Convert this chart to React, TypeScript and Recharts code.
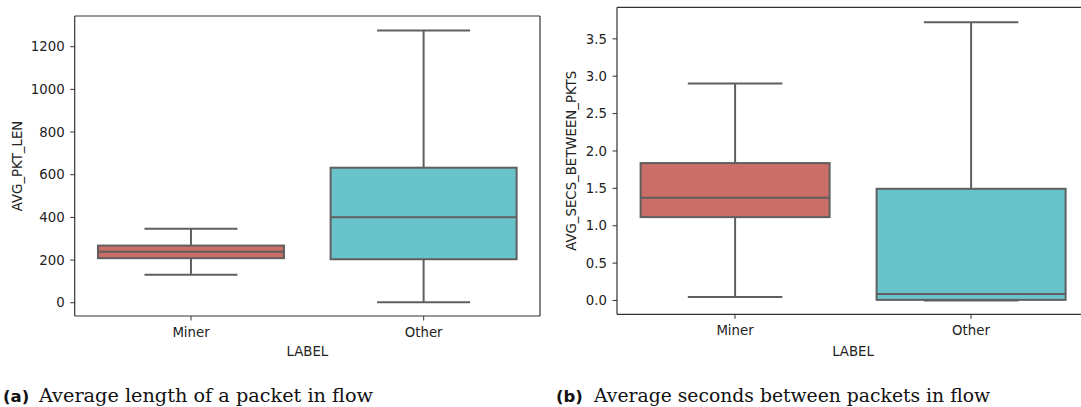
import React from 'react';
import { ComposedChart, Bar, XAxis, YAxis, Label } from 'recharts';

const categories = ['Miner', 'Other'];
const boxColors = ['#cb6e68', '#68c4ca'];

// (a) AVG_PKT_LEN
const pktLenMin = [131, 2];
const pktLenQ1 = [209, 204];
const pktLenMedian = [239, 401];
const pktLenQ3 = [268, 633];
const pktLenMax = [347, 1276];
const pktLenTicks = [0, 200, 400, 600, 800, 1000, 1200];

// (b) AVG_SECS_BETWEEN_PKTS
const secsWhiskerLow = [0.045, 0.0];
const secsQ1 = [1.115, 0.008];
const secsMedian = [1.374, 0.086];
const secsQ3 = [1.838, 1.494];
const secsMax = [2.902, 3.723];
const secsTicks = [0, 0.5, 1, 1.5, 2, 2.5, 3, 3.5];

const LINE = '#5f5f5f';
const SPINE = '#333';
const TEXT = '#222';
const FONT = 'DejaVu Sans, sans-serif';

const buildRows = (lo: number[], q1: number[], med: number[], q3: number[], hi: number[]) =>
  categories.map((label, i) => ({
    label,
    range: [lo[i], hi[i]],
    min: lo[i],
    q1: q1[i],
    median: med[i],
    q3: q3[i],
    max: hi[i],
    fill: boxColors[i],
  }));

const pktLenData = buildRows(pktLenMin, pktLenQ1, pktLenMedian, pktLenQ3, pktLenMax);
const secsData = buildRows(secsWhiskerLow, secsQ1, secsMedian, secsQ3, secsMax);

// bar spans whisker-to-whisker, so its pixel box gives the value->pixel mapping
const BoxShape = (props: any) => {
  const { x, y, width, height, payload } = props;
  const { min, q1, median, q3, max, fill } = payload;
  const top = Math.min(y, y + height);
  const h = Math.abs(height);
  const span = max - min || 1;
  const toY = (v: number) => top + ((max - v) / span) * h;
  const cx = x + width / 2;
  const cap = width / 4;
  return (
    <g>
      <line x1={cx} x2={cx} y1={toY(max)} y2={toY(q3)} stroke={LINE} strokeWidth={2} />
      <line x1={cx} x2={cx} y1={toY(q1)} y2={toY(min)} stroke={LINE} strokeWidth={2} />
      <line x1={cx - cap} x2={cx + cap} y1={toY(max)} y2={toY(max)} stroke={LINE} strokeWidth={2} />
      <line x1={cx - cap} x2={cx + cap} y1={toY(min)} y2={toY(min)} stroke={LINE} strokeWidth={2} />
      <rect x={x} y={toY(q3)} width={width} height={toY(q1) - toY(q3)} fill={fill} stroke={LINE} strokeWidth={2} />
      <line x1={x} x2={x + width} y1={toY(median)} y2={toY(median)} stroke={LINE} strokeWidth={2} />
    </g>
  );
};

const NoShape = () => null;

const tickStyle = { fontSize: 13.3, fill: TEXT, fontFamily: FONT };
const spineLine = { stroke: SPINE, strokeWidth: 1.2 };

interface PanelProps {
  data: any[];
  domain: [number, number];
  ticks: number[];
  yLabel: string;
  yAxisWidth: number;
  top: number;
  plotBottom: number;
  width: number;
  labelDx: number;
  fmt: (v: number) => string;
}

const Panel: React.FC<PanelProps> = ({ data, domain, ticks, yLabel, yAxisWidth, top, plotBottom, width, labelDx, fmt }) => {
  const height = 370;
  return (
    <ComposedChart
      width={width}
      height={height}
      data={data}
      margin={{ top: top - 1, right: 19, bottom: 0, left: 0 }}
      barCategoryGap="10%"
    >
      <XAxis
        xAxisId="top"
        orientation="top"
        dataKey="label"
        height={1}
        tick={false}
        tickLine={false}
        axisLine={spineLine}
      />
      <XAxis
        dataKey="label"
        height={height - plotBottom}
        tickSize={4.5}
        tickMargin={7}
        tick={tickStyle}
        tickLine={{ stroke: SPINE }}
        axisLine={spineLine}
      >
        <Label value="LABEL" position="insideBottom" offset={14} style={{ fontSize: 13.3, fill: TEXT, fontFamily: FONT }} />
      </XAxis>
      <YAxis
        type="number"
        domain={domain}
        ticks={ticks}
        allowDataOverflow
        interval={0}
        width={yAxisWidth}
        tickSize={4.5}
        tickMargin={5.5}
        tick={tickStyle}
        tickFormatter={fmt}
        tickLine={{ stroke: SPINE }}
        axisLine={spineLine}
      >
        <Label
          value={yLabel}
          angle={-90}
          position="center"
          dx={labelDx}
          style={{ fontSize: 13.3, fill: TEXT, fontFamily: FONT, textAnchor: 'middle' }}
        />
      </YAxis>
      <YAxis
        yAxisId="right"
        orientation="right"
        type="number"
        domain={domain}
        allowDataOverflow
        width={1}
        tick={false}
        tickLine={false}
        axisLine={spineLine}
      />
      <Bar dataKey="range" shape={BoxShape} isAnimationActive={false} />
      <Bar dataKey="range" xAxisId="top" yAxisId="right" shape={NoShape} isAnimationActive={false} />
    </ComposedChart>
  );
};

const captionSerif = 'DejaVu Serif, serif';

export default function App() {
  return (
    <div style={{ position: 'absolute', left: 0, top: 0, width: 1081, height: 407, overflow: 'hidden', background: '#fff' }}>
      <div style={{ position: 'absolute', left: 0, top: 0 }}>
        <Panel
          data={pktLenData}
          domain={[-62, 1344]}
          ticks={pktLenTicks}
          yLabel="AVG_PKT_LEN"
          yAxisWidth={74.7}
          top={16}
          plotBottom={316}
          width={560}
          labelDx={-20.4}
          fmt={(v) => String(v)}
        />
      </div>
      <div style={{ position: 'absolute', left: 540, top: 0 }}>
        <Panel
          data={secsData}
          domain={[-0.185, 3.922]}
          ticks={secsTicks}
          yLabel="AVG_SECS_BETWEEN_PKTS"
          yAxisWidth={77}
          top={7.3}
          plotBottom={314.3}
          width={569}
          labelDx={-7.5}
          fmt={(v) => v.toFixed(1)}
        />
      </div>
      <svg width={1081} height={407} style={{ position: 'absolute', left: 0, top: 0, pointerEvents: 'none' }}>
        <text x={3} y={402} fontFamily={FONT} fontWeight="bold" fontSize={16.5} fill="#111">(a)</text>
        <text x={39} y={402} fontFamily={captionSerif} fontSize={18.5} fill="#111" textLength={334} lengthAdjust="spacingAndGlyphs">
          Average length of a packet in flow
        </text>
        <text x={556} y={402} fontFamily={FONT} fontWeight="bold" fontSize={16.5} fill="#111">(b)</text>
        <text x={594} y={402} fontFamily={captionSerif} fontSize={18.5} fill="#111" textLength={396} lengthAdjust="spacingAndGlyphs">
          Average seconds between packets in flow
        </text>
      </svg>
    </div>
  );
}
